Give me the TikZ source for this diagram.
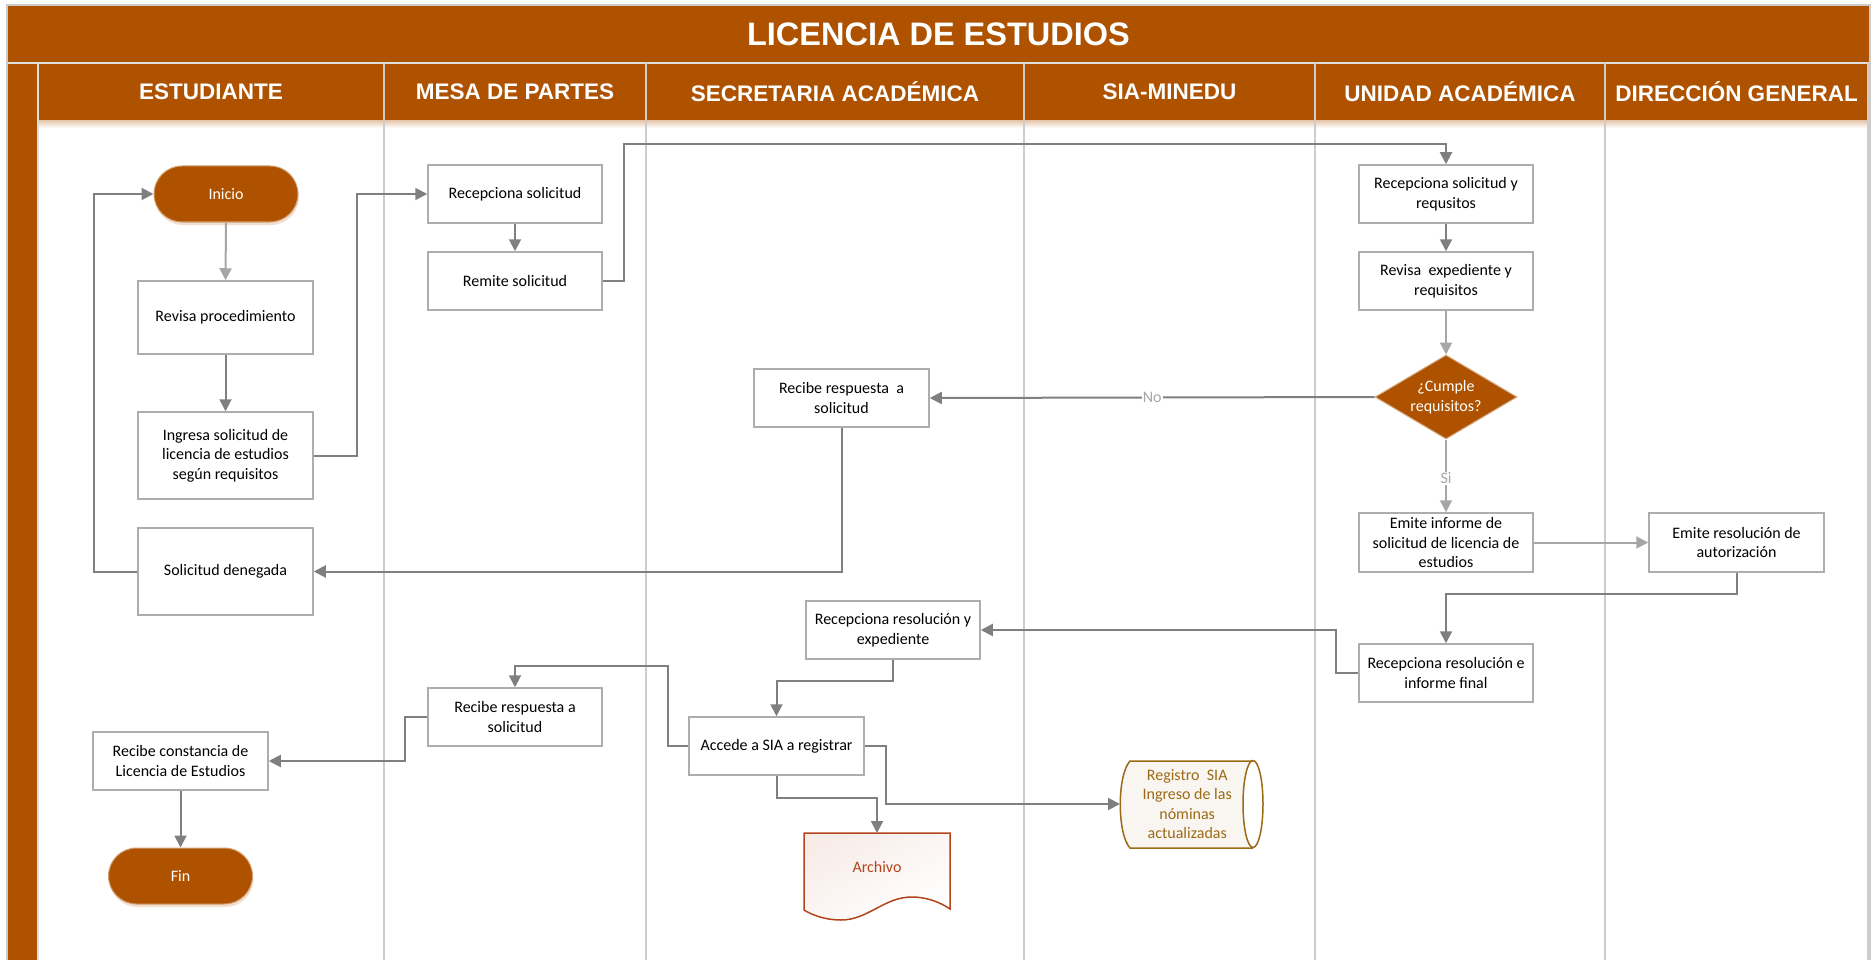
\documentclass[tikz,border=0pt]{standalone}
\usepackage{fontspec}
\setmainfont{Carlito}
\newfontfamily\headfont{Liberation Sans}
\usepackage{xcolor}
\usepackage{tikz}
\usetikzlibrary{shapes,calc,backgrounds,positioning,arrows.meta,shadows}

\definecolor{brand}{HTML}{AE5200}
\definecolor{lineGray}{HTML}{7F7F7F}
\definecolor{lightGray}{HTML}{A6A6A6}
\definecolor{boxGray}{HTML}{ADADAD}
\definecolor{laneGray}{HTML}{D2CCC9}
\definecolor{archRed}{HTML}{B3441C}
\definecolor{regGold}{HTML}{9C6A16}

\begin{document}
\begin{tikzpicture}
        \tikzset{x=1pt, y=-1pt, >={Triangle[length=12pt, width=12pt]}}
        \tikzstyle{arr} = [line width=2pt, draw=lineGray],
        \tikzstyle{arrlight} = [line width=2pt, draw=lightGray],
        \tikzstyle{process} = [shape=rectangle, align=center, draw=boxGray, line width=1.5pt, fill=white, minimum width=174, minimum height=58, inner sep=1.5pt, font=\fontsize{16}{19.5}\selectfont],
        \tikzstyle{terminal} = [shape=rectangle, rounded corners=28pt, align=center, fill=brand, draw=brand!55!white, line width=1pt, text=white, minimum width=144, minimum height=56, font=\fontsize{16}{19.5}\selectfont, drop shadow={shadow xshift=1pt, shadow yshift=-3pt, fill=brand!30, opacity=0.6}],
        \tikzstyle{decision} = [shape=diamond, aspect=1.69, align=center, fill=brand, draw=brand!50!white, line width=1pt, text=white, minimum width=142, minimum height=84, inner sep=0pt, font=\fontsize{16}{19.5}\selectfont],
        \tikzstyle{lanehead} = [text=white, font=\headfont\bfseries\fontsize{22.5}{27}\selectfont],
        \tikzstyle{titlehead} = [text=white, font=\headfont\bfseries\fontsize{32.5}{39}\selectfont],
        \tikzstyle{tag} = [fill=white, text=lightGray, inner sep=1pt, font=\fontsize{16}{19.5}\selectfont],
        \useasboundingbox (0,0) rectangle (1876,960);

        \node [titlehead, name=title] at (938.5,34) {LICENCIA DE ESTUDIOS};
        \node [lanehead, name=laneEst] at (211,92) {ESTUDIANTE};
        \node [lanehead, name=laneMesa] at (515,92) {MESA DE PARTES};
        \node [lanehead, name=laneSec] at (835,92) {SECRETARIA ACADÉMICA};
        \node [lanehead, name=laneSia] at (1169.5,92) {SIA-MINEDU};
        \node [lanehead, name=laneUni] at (1460,92) {UNIDAD ACADÉMICA};
        \node [lanehead, name=laneDir] at (1736.5,92) {DIRECCIÓN GENERAL};

        % estudiante
        \node [terminal, name=inicio] at (226,194) {Inicio};
        \node [process, name=revisaProc, minimum width=175, minimum height=73] at (225.5,317.5) {Revisa procedimiento};
        \node [process, name=ingresa, minimum width=175, minimum height=87] at (225.5,455.5) {Ingresa solicitud de\\licencia de estudios\\según requisitos};
        \node [process, name=denegada, minimum width=175, minimum height=87] at (225.5,571.5) {Solicitud denegada};
        \node [process, name=constancia, minimum width=175] at (180.5,761) {Recibe constancia de\\Licencia de Estudios};
        \node [terminal, name=fin] at (180.5,876) {Fin};

        % mesa de partes
        \node [process, name=recSol] at (515,194) {Recepciona solicitud};
        \node [process, name=remite] at (515,281) {Remite solicitud};
        \node [process, name=recRespMesa] at (515,717) {Recibe respuesta a\\solicitud};

        % secretaria academica
        \node [process, name=recResp, minimum width=175] at (841.5,398) {Recibe respuesta~ a\\solicitud};
        \node [process, name=recResExp] at (893,630) {Recepciona resolución y\\expediente};
        \node [process, name=accede, minimum width=175] at (776.5,746) {Accede a SIA a registrar};
        \node [name=archivo, anchor=north, minimum width=146, minimum height=68, text=archRed, font=\fontsize{16}{19.5}\selectfont] at (877,833) {Archivo};

        % sia-minedu
        \node [name=registro, anchor=west, minimum width=134, minimum height=88, align=center, inner sep=0pt, text=regGold, font=\fontsize{16}{19.5}\selectfont] at (1120,804) {Registro~ SIA\\Ingreso de las\\nóminas\\actualizadas};

        % unidad academica
        \node [process, name=recSolReq] at (1446,194) {Recepciona solicitud y\\requsitos};
        \node [process, name=revisaExp] at (1446,281) {Revisa~ expediente y\\requisitos};
        \node [decision, name=cumple] at (1446,397) {¿Cumple\\requisitos?};
        \node [process, name=emiteInf, minimum height=59] at (1446,542.5) {Emite informe de\\solicitud de licencia de\\estudios};
        \node [process, name=recResInf] at (1446,673) {Recepciona resolución e\\informe final};

        % direccion general
        \node [process, name=emiteRes, minimum width=175, minimum height=59] at (1736.5,542.5) {Emite resolución de\\autorización};

        \coordinate (topbus) at (624,144);
        \coordinate (midbus) at (668,666);

        % arrows
        \draw [arrlight,->] (inicio.south) -- (revisaProc.north);
        \draw [arr,->] (revisaProc.south) -- (ingresa.north);
        \draw [arr,->] (ingresa.east) -- ++(43,0) |- (recSol.west);
        \draw [arr,->] (recSol.south) -- (remite.north);
        \draw [arr,->] (remite.east) -| (topbus) -| (recSolReq.north);
        \draw [arr,->] (recSolReq.south) -- (revisaExp.north);
        \draw [arrlight,->] (revisaExp.south) -- (cumple.north);
        \draw [arr,->] (cumple.west) -- node [tag, pos=0.5] {No} (recResp.east);
        \draw [arr,->] (recResp.south) |- (denegada.east);
        \draw [arr,->] (denegada.west) -- ++(-43,0) |- (inicio.west);
        \draw [arrlight,->] (cumple.south) -- node [tag, pos=0.53] {Si} (emiteInf.north);
        \draw [arrlight,->] (emiteInf.east) -- (emiteRes.west);
        \draw [arr,->] (emiteRes.south) -- ++(0,21) -| (recResInf.north);
        \draw [arr,->] (recResInf.west) -- ++(-22,0) |- (recResExp.east);
        \draw [arr,->] (recResExp.south) -- ++(0,21) -| (accede.north);
        \draw [arr,->] (accede.south) -- ++(0,22) -| (archivo.north);
        \draw [arr,->] (accede.east) -- ++(21,0) |- (registro.west);
        \draw [arr,->] (accede.west) -| (midbus) -| (recRespMesa.north);
        \draw [arr,->] (recRespMesa.west) -- ++(-22,0) |- (constancia.east);
        \draw [arr,->] (constancia.south) -- (fin.north);

        \begin{scope}[on background layer]
            \fill [brand] (8,6) rectangle (1869,121);
            \fill [brand] (8,121) rectangle (38,965);
            \shade [top color=brand!30, bottom color=white] (38,121) rectangle (1868,128);
            \draw [black!20, line width=1.5pt] (7,5) rectangle (1870,965);
            \draw [white!75!gray, line width=1.5pt] (8,63) -- (1869,63);
            \draw [white!75!gray, line width=1.5pt] (38,63) -- (38,965);
            \draw [laneGray, line width=2pt] (384,63) -- (384,965);
            \draw [laneGray, line width=2pt] (646,63) -- (646,965);
            \draw [laneGray, line width=2pt] (1024,63) -- (1024,965);
            \draw [laneGray, line width=2pt] (1315,63) -- (1315,965);
            \draw [laneGray, line width=2pt] (1605,63) -- (1605,965);
            \draw [laneGray, line width=2pt] (1868,63) -- (1868,965);
            % archivo document
            \shade [top color=archRed!10, bottom color=white, shading angle=30] (804,833) -- (950,833) -- (950,909) .. controls (940,902) and (926,897) .. (912,897) .. controls (884,897) and (868,920) .. (841,920) .. controls (825,920) and (812,915) .. (804,910) -- cycle;
            \draw [archRed, line width=1.5pt] (804,833) -- (950,833) -- (950,909) .. controls (940,902) and (926,897) .. (912,897) .. controls (884,897) and (868,920) .. (841,920) .. controls (825,920) and (812,915) .. (804,910) -- cycle;
            % registro storage
            \fill [regGold!6] (1253,761) -- (1130,761) .. controls (1117,775) and (1117,834) .. (1130,848) -- (1253,848) -- cycle;
            \fill [white] (1253,804) ellipse [x radius=10, y radius=43.5];
            \draw [regGold, line width=1.5pt] (1253,761) -- (1130,761) .. controls (1117,775) and (1117,834) .. (1130,848) -- (1253,848);
            \draw [regGold, line width=1.5pt] (1253,804) ellipse [x radius=10, y radius=43.5];
        \end{scope}

    \end{tikzpicture}
\end{document}
